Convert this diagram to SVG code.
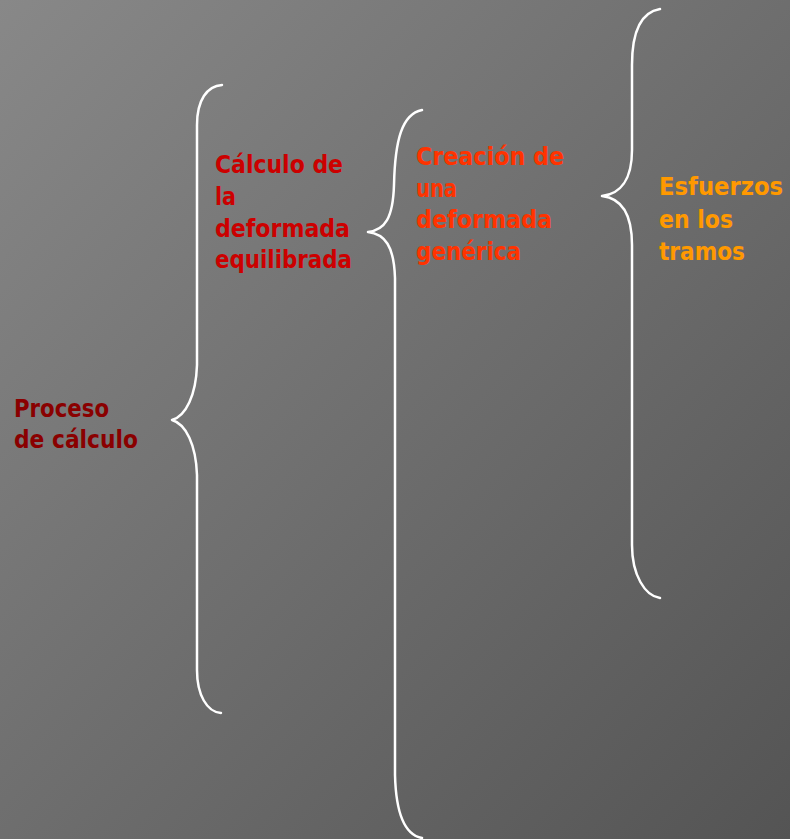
<svg xmlns="http://www.w3.org/2000/svg" width="790" height="839" viewBox="0 0 790 839">
  <defs>
    <linearGradient id="bg" x1="0" y1="0" x2="1" y2="1">
      <stop offset="0" stop-color="#888888"/>
      <stop offset="1" stop-color="#545454"/>
    </linearGradient>
  </defs>
  <style>
    .t { font-family: "DejaVu Sans", "Liberation Sans", sans-serif; font-weight: bold; font-size: 24px; }
    .brace { fill: none; stroke: #ffffff; stroke-width: 2.5; stroke-linecap: round; stroke-linejoin: round; }
  </style>
  <rect x="0" y="0" width="790" height="839" fill="url(#bg)"/>

  <g id="connectors">
    <path class="brace" d="M222,85 C207,86 197,100 197,125 L197,365 C196,395 186,416 172,420 C186,424 196,445 197,475 L197,670 C197,695 207,712 221,713"/>
    <path class="brace" d="M422,110 C402,114 395,140 394,185 C393,218 385,230 368,232 C385,234 394,246 395,278 L395,775 C396,815 405,835 422,838"/>
    <path class="brace" d="M660,9 C642,12 632,30 632,65 L632,150 C632,180 620,194 602,196 C620,198 632,212 632,245 L632,545 C632,575 645,596 660,598"/>
  </g>

  <g id="proceso">
    <text class="t" fill="#8a0000" lengthAdjust="spacingAndGlyphs"><tspan x="14" y="417" textLength="95" lengthAdjust="spacingAndGlyphs">Proceso</tspan><tspan x="14" y="448" textLength="124" lengthAdjust="spacingAndGlyphs">de cálculo</tspan></text>
  </g>

  <g id="calculo">
    <text class="t" fill="#cc0000"><tspan x="215" y="173" textLength="128" lengthAdjust="spacingAndGlyphs">Cálculo de</tspan><tspan x="215" y="205" textLength="21" lengthAdjust="spacingAndGlyphs">la</tspan><tspan x="215" y="237" textLength="135" lengthAdjust="spacingAndGlyphs">deformada</tspan><tspan x="215" y="268" textLength="137" lengthAdjust="spacingAndGlyphs">equilibrada</tspan></text>
  </g>

  <g id="creacion">
    <text class="t" fill="#ff3300"><tspan x="416" y="165" textLength="148" lengthAdjust="spacingAndGlyphs">Creación de</tspan><tspan x="416" y="197" textLength="41" lengthAdjust="spacingAndGlyphs">una</tspan><tspan x="416" y="228" textLength="136" lengthAdjust="spacingAndGlyphs">deformada</tspan><tspan x="416" y="260" textLength="105" lengthAdjust="spacingAndGlyphs">genérica</tspan></text>
  </g>

  <g id="esfuerzos">
    <text class="t" fill="#ff9900"><tspan x="659" y="195" textLength="124" lengthAdjust="spacingAndGlyphs">Esfuerzos</tspan><tspan x="659" y="228" textLength="74" lengthAdjust="spacingAndGlyphs">en los</tspan><tspan x="659" y="260" textLength="86" lengthAdjust="spacingAndGlyphs">tramos</tspan></text>
  </g>
</svg>
